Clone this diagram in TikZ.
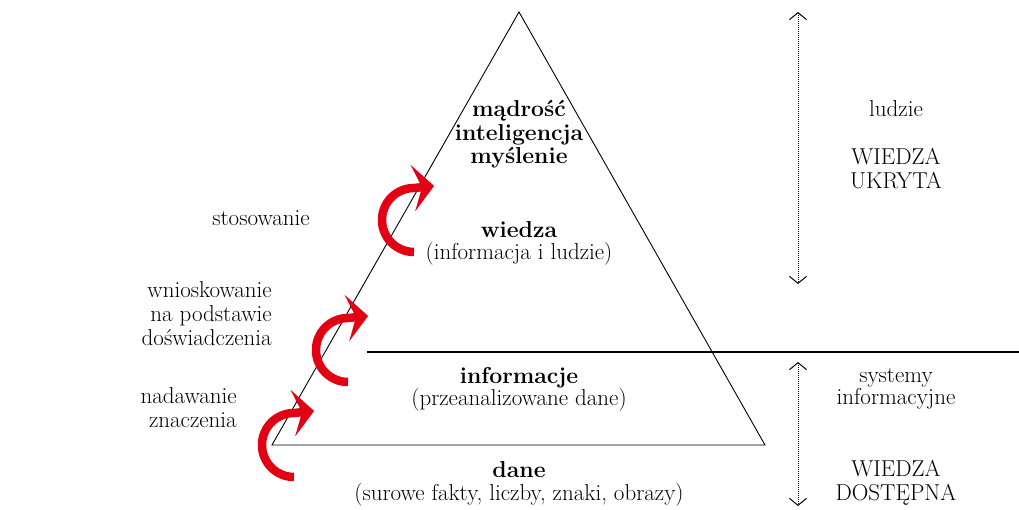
\documentclass[tikz,border=0pt]{standalone}
\usepackage{fontspec}
\usetikzlibrary{arrows.meta}
\definecolor{arrred}{RGB}{226,0,20}
\begin{document}
\begin{tikzpicture}[x=1pt,y=-1pt,
  every node/.style={inner sep=0pt,font=\fontsize{23}{23.5}\selectfont},
  txt/.style={anchor=base},
  btxt/.style={anchor=base,font=\fontsize{23}{23.5}\selectfont\bfseries},
  rtxt/.style={anchor=base east},
  tri/.style={draw=black,line width=0.9pt,line join=miter},
  sep/.style={draw=black,line width=2pt},
  dotarrow/.style={draw=black,line width=1pt,dash pattern=on 1pt off 1pt,
    {Straight Barb[length=7pt,width=17pt,line width=1pt]}-{Straight Barb[length=7pt,width=17pt,line width=1pt]}},
  redarrow/.style={draw=arrred,line width=8.5pt,
    -{Stealth[length=21pt,width=46pt,inset=9pt,line width=0.01pt]}}
]
\useasboundingbox (0,0) rectangle (1019,510);

% pyramid
\coordinate (apex) at (519,12);
\coordinate (bl) at (272,445);
\coordinate (br) at (765,445);
\draw[tri] (apex) -- (bl) -- (br) -- cycle;

% separator
\coordinate (sepL) at (367,352);
\coordinate (sepR) at (1019,352);
\draw[sep] (sepL) -- (sepR);

% dotted double arrows
\coordinate (u1) at (798,12);
\coordinate (u2) at (798,284);
\coordinate (d1) at (798,362);
\coordinate (d2) at (798,506);
\draw[dotarrow] (u1) -- (u2);
\draw[dotarrow] (d1) -- (d2);

% red arrows
\coordinate (c1) at (294,445);
\coordinate (c2) at (348,350);
\coordinate (c3) at (414,220);
\foreach \c in {c1,c2,c3}{
  \draw[redarrow] (\c) ++(0,32) arc[start angle=90,end angle=270,radius=32] -- ++(20,-2);
}

% pyramid texts
\node[btxt] (madrosc) at (519,117) {mądrość};
\node[btxt] (intel) at (519,140.5) {inteligencja};
\node[btxt] (myslenie) at (519,164) {myślenie};
\node[btxt] (wiedza) at (519,238) {wiedza};
\node[txt] (wiedzaopis) at (519,260) {(informacja i ludzie)};
\node[btxt] (informacje) at (519,383) {informacje};
\node[txt] (infoopis) at (519,405) {(przeanalizowane dane)};
\node[btxt] (dane) at (519,477) {dane};
\node[txt] (daneopis) at (519,500) {(surowe fakty, liczby, znaki, obrazy)};

% left labels
\node[txt] (stos) at (261,226) {stosowanie};
\node[rtxt] (wn1) at (272,298) {wnioskowanie};
\node[rtxt] (wn2) at (272,322) {na podstawie};
\node[rtxt] (wn3) at (272,345) {doświadczenia};
\node[rtxt] (nad1) at (237,403) {nadawanie};
\node[rtxt] (nad2) at (237,427) {znaczenia};

% right labels
\node[txt] (ludzie) at (896,117) {ludzie};
\node[txt] (wu1) at (896,165) {WIEDZA};
\node[txt] (wu2) at (896,189) {UKRYTA};
\node[txt] (sys1) at (896,382) {systemy};
\node[txt] (sys2) at (896,404) {informacyjne};
\node[txt] (wd1) at (896,476) {WIEDZA};
\node[txt] (wd2) at (896,500) {DOSTĘPNA};
\end{tikzpicture}
\end{document}
